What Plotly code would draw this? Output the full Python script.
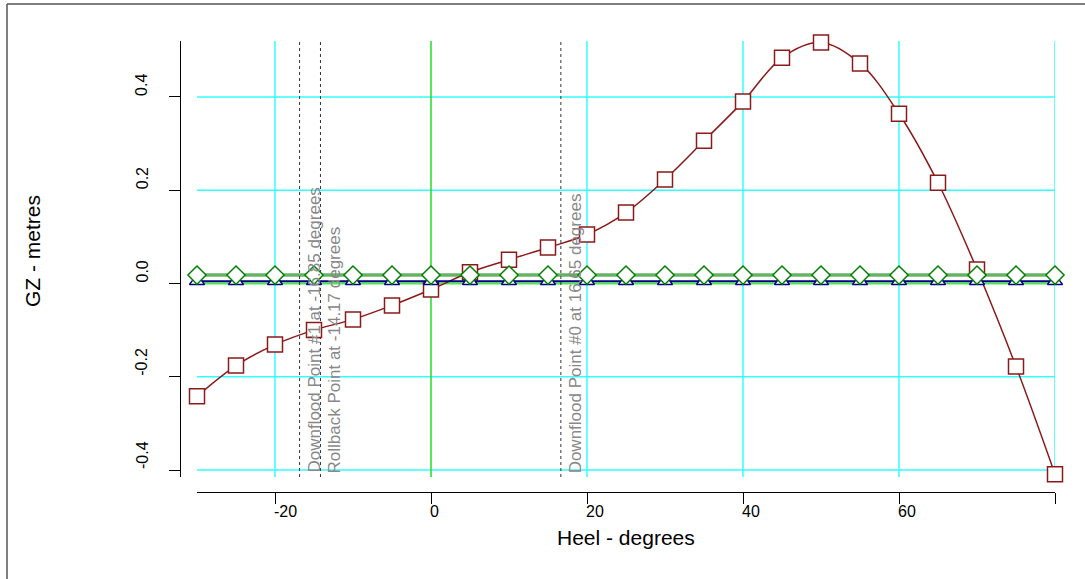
import plotly.graph_objects as go

heel = [-30, -25, -20, -15, -10, -5, 0, 5, 10, 15, 20, 25, 30, 35, 40, 45, 50, 55, 60, 65, 70, 75, 80]
gz = [-0.242, -0.176, -0.131, -0.100, -0.077, -0.047, -0.013, 0.024, 0.051, 0.077, 0.105,
      0.152, 0.223, 0.306, 0.390, 0.484, 0.517, 0.472, 0.364, 0.216, 0.030, -0.178, -0.409]
navy_series = [0.005] * len(heel)
green_series = [0.018] * len(heel)

point_angles = [-16.85, -14.17, 16.65]
point_labels = ["Downflood Point #1 at -16.85 degrees",
                "Rollback Point at -14.17 degrees",
                "Downflood Point #0 at 16.65 degrees"]

x_ticks = [-20, 0, 20, 40, 60, 80]
x_ticktext = ["-20", "0", "20", "40", "60", ""]
y_ticks = [-0.4, -0.2, 0.0, 0.2, 0.4]
y_ticktext = ["-0.4", "-0.2", "0.0", "0.2", "0.4"]
x_grid = [-20, 20, 40, 60, 80]
y_grid = [-0.4, -0.2, 0.2, 0.4]

XR = [-30, 80]
YR = [-0.415, 0.52]
FONT = "Liberation Sans, Arial, sans-serif"

fig = go.Figure()
fig.add_trace(go.Scatter(x=heel, y=gz, mode="lines+markers", cliponaxis=False,
                         line=dict(color="#8B1A1A", width=1.5, shape="spline"),
                         marker=dict(symbol="square", size=15, color="white",
                                     line=dict(color="#8B1A1A", width=1.5))))
fig.add_trace(go.Scatter(x=heel, y=navy_series, mode="lines+markers", cliponaxis=False,
                         line=dict(color="#000080", width=2),
                         marker=dict(symbol="triangle-up", size=13, color="white",
                                     line=dict(color="#000080", width=1.5))))
fig.add_trace(go.Scatter(x=heel, y=green_series, mode="lines+markers", cliponaxis=False,
                         line=dict(color="rgba(0,128,0,0.6)", width=3.5),
                         marker=dict(symbol="diamond", size=14, color="white",
                                     line=dict(color="#008000", width=1.5))))

shapes = []
for gx in x_grid:
    shapes.append(dict(type="line", xref="x", yref="y", x0=gx, x1=gx, y0=YR[0], y1=YR[1],
                       line=dict(color="#33FFFF", width=1.5), layer="below"))
for gy in y_grid:
    shapes.append(dict(type="line", xref="x", yref="y", x0=XR[0], x1=XR[1], y0=gy, y1=gy,
                       line=dict(color="#33FFFF", width=1.5), layer="below"))
shapes.append(dict(type="line", xref="x", yref="y", x0=0, x1=0, y0=YR[0], y1=YR[1],
                   line=dict(color="#22DD22", width=1.5), layer="below"))
shapes.append(dict(type="line", xref="x", yref="y", x0=XR[0], x1=XR[1], y0=0, y1=0,
                   line=dict(color="#44EE44", width=2), layer="below"))
for a in point_angles:
    shapes.append(dict(type="line", xref="x", yref="y", x0=a, x1=a, y0=YR[0], y1=YR[1],
                       line=dict(color="#333333", width=1, dash="dot"), layer="below"))

# outer frame
W_PAPER, H_PAPER = 875.0, 451.0
def px(xp):
    return (xp - 180) / W_PAPER
def py(yp):
    return (492 - yp) / H_PAPER
shapes.append(dict(type="line", xref="paper", yref="paper", x0=px(7), x1=px(1090), y0=py(4), y1=py(4),
                   line=dict(color="#555555", width=1.5)))
shapes.append(dict(type="line", xref="paper", yref="paper", x0=px(7), x1=px(7), y0=py(4), y1=py(585),
                   line=dict(color="#555555", width=1.5)))

annotations = []
for a, t in zip(point_angles, point_labels):
    annotations.append(dict(x=a, y=YR[0], xref="x", yref="y", text=t, showarrow=False,
                            textangle=-90, xanchor="left", yanchor="bottom",
                            xshift=3, yshift=2,
                            font=dict(family=FONT, size=17, color="#888888")))
# tick labels, start-aligned at the tick as in the reference
for v, t in zip(x_ticks, x_ticktext):
    if t:
        annotations.append(dict(x=v, y=py(501), xref="x", yref="paper", text=t, showarrow=False,
                                xanchor="left", yanchor="top", xshift=-3,
                                font=dict(family=FONT, size=16, color="black")))
for v, t in zip(y_ticks, y_ticktext):
    annotations.append(dict(x=px(142), y=v, xref="paper", yref="y", text=t, showarrow=False,
                            textangle=-90, xanchor="center", yanchor="bottom", yshift=-1,
                            font=dict(family=FONT, size=16, color="black")))
annotations.append(dict(x=px(626), y=py(537), xref="paper", yref="paper", text="Heel - degrees",
                        showarrow=False, xanchor="center", yanchor="middle",
                        font=dict(family=FONT, size=21, color="black")))
annotations.append(dict(x=px(33), y=py(251), xref="paper", yref="paper", text="GZ - metres",
                        showarrow=False, textangle=-90, xanchor="center", yanchor="middle",
                        font=dict(family=FONT, size=21, color="black")))

fig.update_layout(
    width=1085, height=579,
    margin=dict(l=180, r=30, t=41, b=87),
    paper_bgcolor="white", plot_bgcolor="white",
    showlegend=False,
    shapes=shapes, annotations=annotations,
    font=dict(family=FONT, size=16, color="black"),
    xaxis=dict(domain=[17 / W_PAPER, 1], range=XR, anchor="free", position=0,
               showline=True, linecolor="black", linewidth=1,
               ticks="outside", ticklen=11, tickcolor="black", tickwidth=1,
               tickvals=x_ticks, showticklabels=False, showgrid=False, zeroline=False),
    yaxis=dict(domain=[15 / H_PAPER, 1], range=YR, anchor="free", position=0,
               showline=True, linecolor="black", linewidth=1,
               ticks="outside", ticklen=11, tickcolor="black", tickwidth=1,
               tickvals=y_ticks, showticklabels=False, showgrid=False, zeroline=False),
)

fig.write_html("out.html")
